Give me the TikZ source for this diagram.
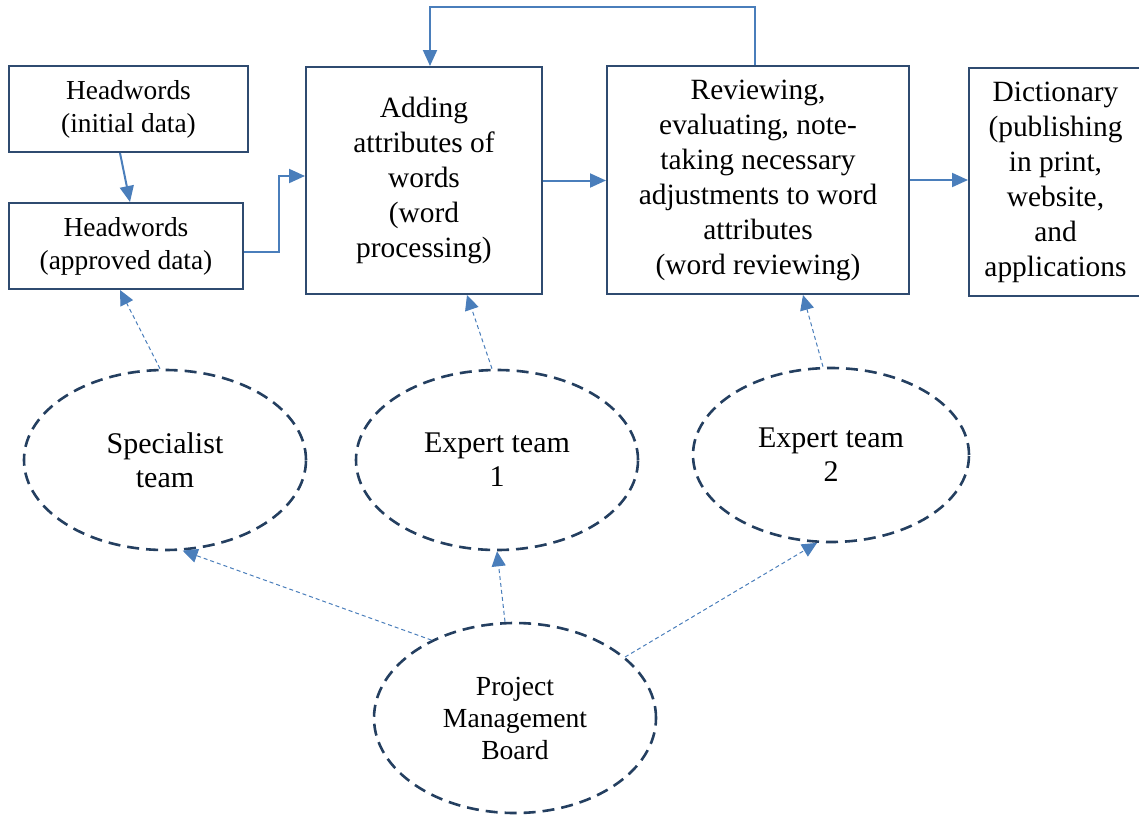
\documentclass[tikz,border=0pt]{standalone}
\usepackage{fontspec}
\setmainfont{Liberation Serif}
\usetikzlibrary{shapes.geometric,arrows.meta}
\definecolor{boxline}{HTML}{2F4B70}
\definecolor{teamline}{HTML}{243F60}
\definecolor{flowblue}{HTML}{4A7EBB}
\tikzset{
 stage/.style={draw=boxline, line width=1pt, align=center, inner sep=2pt, font=\fontsize{14.7}{17.5}\selectfont},
 team/.style={ellipse, draw=teamline, line width=1.3pt, dash pattern=on 6pt off 3.5pt, align=center, inner sep=0pt, font=\fontsize{15}{17}\selectfont},
 flow/.style={draw=flowblue, line width=1pt, -{Triangle[length=8pt,width=7pt]}},
 duty/.style={draw=flowblue, line width=0.5pt, dash pattern=on 2pt off 1.5pt, -{Triangle[length=7.5pt,width=7pt]}},
}
\begin{document}
\begin{tikzpicture}[x=0.5pt, y=-0.5pt]
 \useasboundingbox (0,0) rectangle (1139,814);
 % work stages
 \node [stage, minimum width=119.5pt, minimum height=43pt, font=\fontsize{13.7}{16.5}\selectfont] (head1) at (128.5,109) {Headwords\\(initial data)};
 \node [stage, minimum width=117pt, minimum height=43pt, font=\fontsize{13.7}{16.5}\selectfont] (head2) at (126,246) {Headwords\\(approved data)};
 \node [stage, minimum width=118pt, minimum height=113.5pt] (adding) at (424,180.5) {Adding\\attributes of\\words\\(word\\processing)};
 \node [stage, minimum width=151pt, minimum height=114pt] (review) at (758,180) {Reviewing,\\evaluating, note-\\taking necessary\\adjustments to word\\attributes\\(word reviewing)};
 \node [stage, minimum width=86.5pt, minimum height=114pt] (dict) at (1055.5,182) {Dictionary\\(publishing\\in print,\\website,\\and\\applications};
 % teams
 \node [team, minimum width=141pt, minimum height=90pt] (spec) at (165,460) {Specialist\\team};
 \node [team, minimum width=141pt, minimum height=90pt] (exp1) at (497,460) {Expert team\\1};
 \node [team, minimum width=138pt, minimum height=87pt] (exp2) at (831,455) {Expert team\\2};
 \node [team, minimum width=141pt, minimum height=95pt, font=\fontsize{13.8}{16}\selectfont] (board) at (515,718) {Project\\Management\\Board};
 % main flow
 \draw [flow] ([xshift=-4.25pt]head1.south) -- ([xshift=2pt]head2.north);
 \draw [flow] ([yshift=-3pt]head2.east) -- ++(17.5pt,0) |- ([yshift=2.25pt]adding.west);
 \draw [flow] (adding.east) -- (adding.east -| review.west);
 \draw [flow] (review.east) -- (review.east -| dict.west);
 \draw [flow] ([xshift=-1.5pt]review.north) -- ++(0,29pt) -| ([xshift=3pt]adding.north);
 % responsibilities
 \draw [duty] ([xshift=-2.5pt]spec.north) -- ([xshift=-3pt]head2.south);
 \draw [duty] ([xshift=-2.5pt]exp1.north) -- ([xshift=21.5pt]adding.south);
 \draw [duty] ([xshift=-4pt]exp2.north) -- ([xshift=22.5pt]review.south);
 \draw [duty] (board.137) -- (spec.-79);
 \draw [duty] ([xshift=-5pt]board.north) -- (exp1.south);
 \draw [duty] (board.29) -- (exp2.-99);
\end{tikzpicture}
\end{document}
